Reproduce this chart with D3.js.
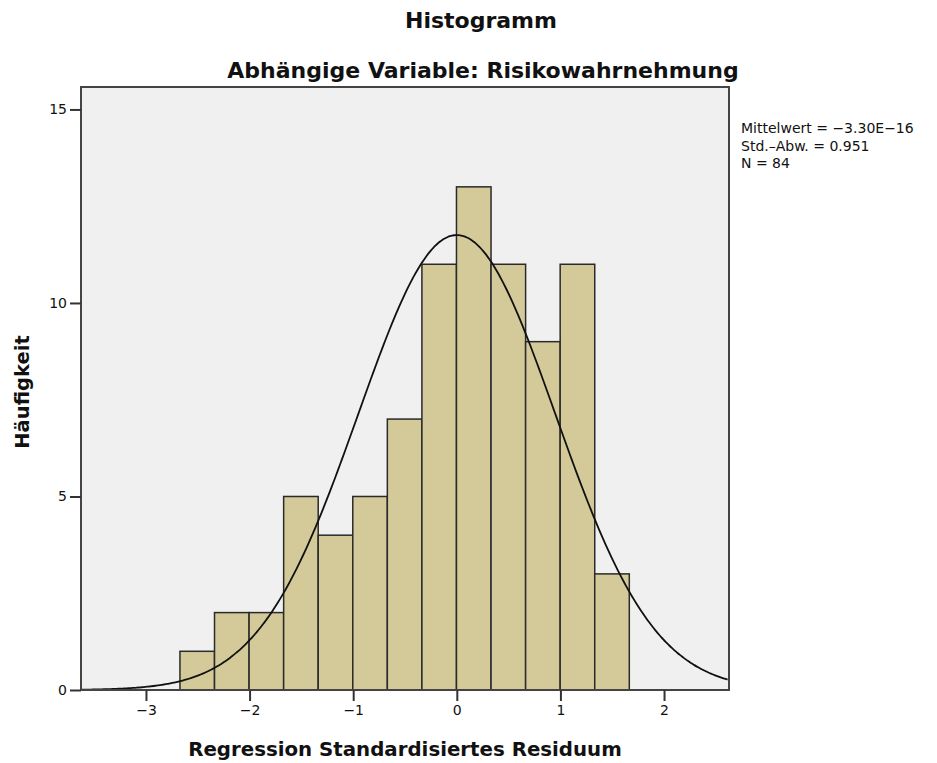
<!DOCTYPE html>
<html>
<head>
<meta charset="utf-8">
<script src="https://cdn.jsdelivr.net/npm/d3@7"></script>
<style>
body { margin: 0; background: #fff; }
text { font-family: "DejaVu Sans", sans-serif; fill: #111; }
</style>
</head>
<body>
<script>
// frequencies per bin, left to right
var counts = [1, 2, 2, 5, 4, 5, 7, 11, 13, 11, 9, 11, 3];
var binStart = -2.672;
var binWidth = 0.3336;
var xTicks = [-3, -2, -1, 0, 1, 2];
var yTicks = [0, 5, 10, 15];
var mean = -3.30e-16, sd = 0.951, n = 84;
var statLines = ["Mittelwert = \u22123.30E\u221216", "Std.\u2013Abw. = 0.951", "N = 84"];

var width = 937, height = 763;
var plot = {left: 81, top: 87, right: 729, bottom: 690};

var svg = d3.select("body").append("svg")
  .attr("width", width)
  .attr("height", height);

var x = d3.scaleLinear().domain([-3.627, 2.627]).range([plot.left, plot.right]);
var y = d3.scaleLinear().domain([0, 15.58]).range([plot.bottom, plot.top]);

svg.append("rect")
  .attr("x", plot.left).attr("y", plot.top)
  .attr("width", plot.right - plot.left)
  .attr("height", plot.bottom - plot.top)
  .attr("fill", "#f0f0f0");

var bins = counts.map(function(c, i) {
  return {x0: binStart + i * binWidth, x1: binStart + (i + 1) * binWidth, c: c};
});

svg.append("g")
  .selectAll("rect")
  .data(bins)
  .enter().append("rect")
  .attr("x", function(d) { return x(d.x0); })
  .attr("y", function(d) { return y(d.c); })
  .attr("width", function(d) { return x(d.x1) - x(d.x0); })
  .attr("height", function(d) { return y(0) - y(d.c); })
  .attr("fill", "#d4ca99")
  .attr("stroke", "#2a2a2a")
  .attr("stroke-width", 1.5);

// normal curve scaled to counts
var pts = d3.range(x.domain()[0], x.domain()[1] + 0.001, 0.02);
var line = d3.line()
  .x(function(v) { return x(v); })
  .y(function(v) {
    var z = (v - mean) / sd;
    return y(n * binWidth * Math.exp(-0.5 * z * z) / (sd * Math.sqrt(2 * Math.PI)));
  })
  .curve(d3.curveBasis);
svg.append("path")
  .datum(pts)
  .attr("d", line)
  .attr("fill", "none")
  .attr("stroke", "#111")
  .attr("stroke-width", 1.8);

svg.append("rect")
  .attr("x", plot.left).attr("y", plot.top)
  .attr("width", plot.right - plot.left)
  .attr("height", plot.bottom - plot.top)
  .attr("fill", "none")
  .attr("stroke", "#444")
  .attr("stroke-width", 2);

var xAxis = svg.append("g")
  .attr("transform", "translate(0," + plot.bottom + ")")
  .call(d3.axisBottom(x).tickValues(xTicks).tickFormat(d3.format("d")).tickSize(11).tickPadding(4));
var yAxis = svg.append("g")
  .attr("transform", "translate(" + plot.left + ",0)")
  .call(d3.axisLeft(y).tickValues(yTicks).tickFormat(d3.format("d")).tickSize(11).tickPadding(3));
[xAxis, yAxis].forEach(function(a) {
  a.select(".domain").remove();
  a.selectAll(".tick line").attr("stroke", "#333").attr("stroke-width", 2);
  a.selectAll(".tick text")
    .style("font-family", "DejaVu Sans, sans-serif")
    .style("font-size", "14px")
    .attr("fill", "#222");
});

svg.append("text")
  .attr("x", 481).attr("y", 28)
  .attr("text-anchor", "middle")
  .style("font-size", "22px").style("font-weight", "bold")
  .text("Histogramm");
svg.append("text")
  .attr("x", 483).attr("y", 78)
  .attr("text-anchor", "middle")
  .style("font-size", "22px").style("font-weight", "bold")
  .text("Abh\u00e4ngige Variable: Risikowahrnehmung");
svg.append("text")
  .attr("x", 405).attr("y", 756)
  .attr("text-anchor", "middle")
  .style("font-size", "19.8px").style("font-weight", "bold")
  .text("Regression Standardisiertes Residuum");
svg.append("text")
  .attr("transform", "translate(29,392) rotate(-90)")
  .attr("text-anchor", "middle")
  .style("font-size", "19.5px").style("font-weight", "bold")
  .text("H\u00e4ufigkeit");

svg.append("g")
  .selectAll("text")
  .data(statLines)
  .enter().append("text")
  .attr("x", 741)
  .attr("y", function(d, i) { return 133 + i * 17.5; })
  .style("font-size", "14px")
  .text(function(d) { return d; });
</script>
</body>
</html>
